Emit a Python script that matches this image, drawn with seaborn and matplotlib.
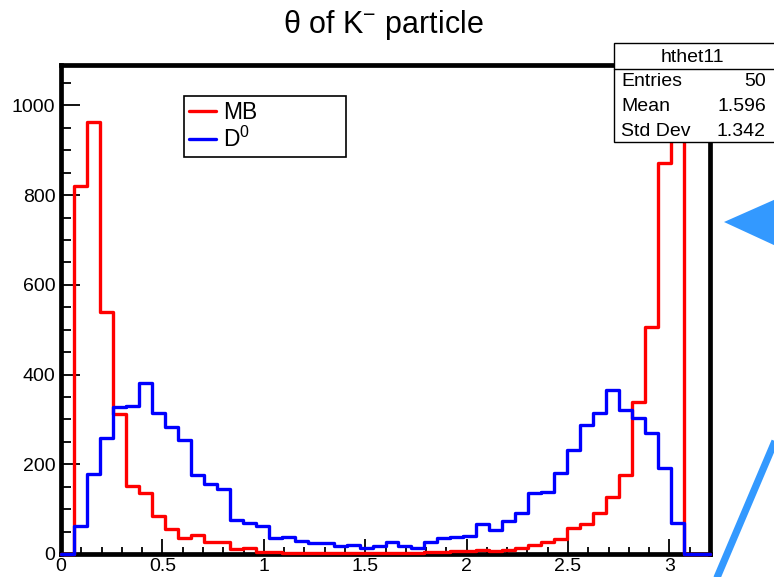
import numpy as np
import pandas as pd
import seaborn as sns
import matplotlib.pyplot as plt
from matplotlib.ticker import MultipleLocator, FuncFormatter
from matplotlib.lines import Line2D
from matplotlib.patches import Polygon, Rectangle

sns.set_theme(style="white")
plt.rcParams["font.family"] = ["Liberation Sans", "DejaVu Sans"]
plt.rcParams["mathtext.fontset"] = "custom"
plt.rcParams["mathtext.rm"] = "Liberation Sans"
plt.rcParams["mathtext.it"] = "Liberation Sans:italic"
plt.rcParams["mathtext.bf"] = "Liberation Sans:bold"
plt.rcParams["text.color"] = "black"
plt.rcParams["xtick.color"] = "black"
plt.rcParams["ytick.color"] = "black"
plt.rcParams["xtick.labelcolor"] = "black"
plt.rcParams["ytick.labelcolor"] = "black"

# 50 bins of theta between 0 and 3.2 rad
theta_lo, theta_hi, n_bins = 0.0, 3.2, 50

mb_counts = [0, 821, 963, 539, 313, 152, 136, 84, 56, 35,
             43, 27, 27, 11, 13, 5, 4, 3, 3, 2,
             3, 2, 3, 2, 2, 3, 3, 3, 4, 4,
             6, 7, 9, 6, 10, 14, 19, 27, 34, 58,
             67, 91, 128, 176, 338, 507, 872, 1040, 0, 0]

d0_counts = [0, 63, 178, 258, 328, 330, 381, 315, 284, 254,
             175, 155, 144, 75, 68, 62, 35, 39, 28, 25,
             25, 17, 20, 13, 17, 26, 17, 13, 26, 35,
             37, 40, 67, 54, 74, 91, 135, 139, 181, 232,
             288, 315, 366, 321, 303, 269, 191, 70, 0, 0]

series_labels = ["MB", "D$^0$"]
series_colors = ["#ff0000", "#0000ff"]

title_text = "θ of K$^{-}$ particle"
stats_name = "hthet11"
stats_rows = [("Entries", "50"), ("Mean", "1.596"), ("Std Dev", "1.342")]

bin_width = (theta_hi - theta_lo) / n_bins
centers = theta_lo + bin_width * (np.arange(n_bins) + 0.5)
mb_df = pd.DataFrame({"theta": centers, "count": mb_counts})
d0_df = pd.DataFrame({"theta": centers, "count": d0_counts})

W, H = 774, 577
fig = plt.figure(figsize=(W / 100, H / 100), dpi=100)


def fx(px):
    return px / W


def fy(py):
    return 1 - py / H


ax = fig.add_axes([fx(61), fy(554), (710 - 61) / W, (554 - 65) / H])

for df, col in zip([mb_df, d0_df], series_colors):
    sns.histplot(data=df, x="theta", weights="count", bins=n_bins,
                 binrange=(theta_lo, theta_hi),
                 element="step", fill=False, color=col, linewidth=2.4,
                 zorder=3, ax=ax)
for ln in ax.lines:
    ln.set_clip_on(False)

ax.set_xlim(theta_lo, theta_hi)
ax.set_ylim(0, 1090)
ax.set_xlabel("")
ax.set_ylabel("")
ax.xaxis.set_major_locator(MultipleLocator(0.5))
ax.xaxis.set_minor_locator(MultipleLocator(0.1))
ax.yaxis.set_major_locator(MultipleLocator(200))
ax.yaxis.set_minor_locator(MultipleLocator(50))
fmt = FuncFormatter(lambda v, p: f"{v:g}")
ax.xaxis.set_major_formatter(fmt)
ax.yaxis.set_major_formatter(fmt)
ax.tick_params(axis="x", which="major", direction="in", length=10.5, width=1.3,
               color="black", labelsize=14, pad=3, bottom=True)
ax.tick_params(axis="x", which="minor", direction="in", length=5.3, width=1.3,
               color="black", bottom=True)
ax.tick_params(axis="y", which="major", direction="in", length=14, width=1.3,
               color="black", labelsize=14, pad=4, left=True)
ax.tick_params(axis="y", which="minor", direction="in", length=7, width=1.3,
               color="black", left=True)
for s in ax.spines.values():
    s.set_visible(True)
    s.set_color("black")
    s.set_linewidth(3.4)
    s.set_zorder(2.5)

handles = [Line2D([], [], color=c, linewidth=2.4) for c in series_colors]
leg = ax.legend(handles, series_labels, loc="upper left",
                bbox_to_anchor=(fx(184), fy(156), 162 / W, 60 / H),
                bbox_transform=fig.transFigure, mode="expand",
                frameon=True, fancybox=False, framealpha=1, edgecolor="black",
                fontsize=16.5, handlelength=1.2, handletextpad=0.3,
                borderpad=0.2, labelspacing=0.15, borderaxespad=0)
leg.get_frame().set_linewidth(1.2)

fig.text(fx(383), fy(25), title_text, ha="center", va="center", fontsize=22)

# statistics box
fig.patches.append(Rectangle((fx(614), fy(142)), (790 - 614) / W, (142 - 43) / H,
                             transform=fig.transFigure, facecolor="white",
                             edgecolor="black", linewidth=1.0, zorder=5))
fig.lines.append(Line2D([fx(614), fx(774)], [fy(69), fy(69)],
                        transform=fig.transFigure, color="black",
                        linewidth=1.0, zorder=6))
fig.text(fx(692), fy(57), stats_name, ha="center", va="center", fontsize=14, zorder=7)
for i, (k, v) in enumerate(stats_rows):
    yy = fy(82 + 24.5 * i)
    fig.text(fx(621), yy, k, ha="left", va="center", fontsize=14, zorder=7)
    fig.text(fx(766), yy, v, ha="right", va="center", fontsize=14, zorder=7)

# pointer marks at the right edge
arrow_col = "#3399ff"
fig.patches.append(Polygon([(fx(724), fy(222)), (fx(776), fy(199)), (fx(776), fy(246))],
                           closed=True, transform=fig.transFigure,
                           facecolor=arrow_col, edgecolor="none", zorder=8))
fig.lines.append(Line2D([fx(716), fx(778)], [fy(580), fy(434)],
                        transform=fig.transFigure, color=arrow_col,
                        linewidth=5.2, solid_capstyle="butt", zorder=8))

fig.savefig("out.png", dpi=100)
